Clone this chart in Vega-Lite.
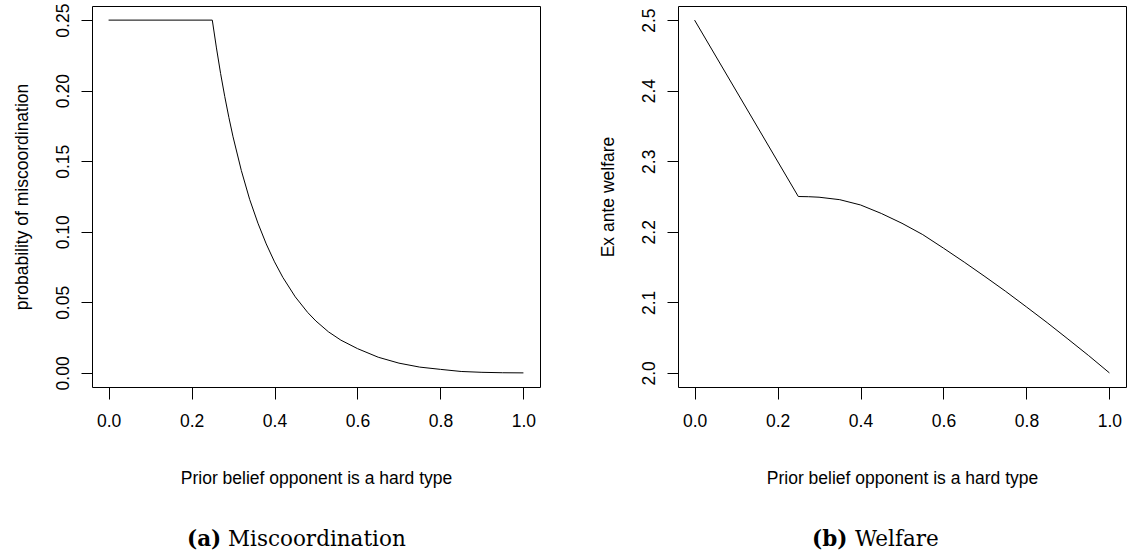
{
  "$schema": "https://vega.github.io/schema/vega-lite/v6.json",
  "background": "white",
  "padding": {"left": 12, "top": 2, "right": 0, "bottom": 0},
  "spacing": 57,
  "config": {
    "font": "Liberation Sans",
    "view": {"stroke": "#000", "strokeWidth": 1},
    "axis": {
      "labelFont": "Liberation Sans",
      "titleFont": "Liberation Sans",
      "labelFontSize": 17.5,
      "titleFontSize": 17.5,
      "titleFontWeight": "normal",
      "labelColor": "#000",
      "titleColor": "#000",
      "tickColor": "#000",
      "tickWidth": 1,
      "domain": false,
      "grid": false
    },
    "axisX": {"tickSize": 12, "labelPadding": 13, "titlePadding": 40, "labelFlush": false},
    "axisY": {"tickSize": 11, "labelPadding": 13, "labelAngle": 270, "labelAlign": "center", "labelBaseline": "alphabetic", "titlePadding": 23, "labelFlush": false},
    "title": {"font": "DejaVu Serif", "fontSize": 21.5, "color": "#000", "orient": "bottom", "anchor": "start", "align": "left", "frame": "group"}
  },
  "hconcat": [
    {
      "title": {"text": "(a)", "fontWeight": "bold", "dx": 95, "offset": -22},
      "hconcat": [
        {
          "title": {"text": "Miscoordination", "fontWeight": "normal", "dx": 136, "offset": 42},
          "width": 448,
          "height": 381,
          "data": {"values": [
            {"p": 0.0, "m": 0.25}, {"p": 0.25, "m": 0.25}, {"p": 0.26, "m": 0.2303}, {"p": 0.27, "m": 0.2122},
            {"p": 0.28, "m": 0.1959}, {"p": 0.29, "m": 0.181}, {"p": 0.30, "m": 0.1673}, {"p": 0.32, "m": 0.1434},
            {"p": 0.34, "m": 0.123}, {"p": 0.36, "m": 0.1061}, {"p": 0.38, "m": 0.0914}, {"p": 0.40, "m": 0.0787},
            {"p": 0.42, "m": 0.0677}, {"p": 0.45, "m": 0.0539}, {"p": 0.48, "m": 0.0428}, {"p": 0.50, "m": 0.0367},
            {"p": 0.53, "m": 0.0291}, {"p": 0.56, "m": 0.0232}, {"p": 0.60, "m": 0.0172}, {"p": 0.65, "m": 0.0111},
            {"p": 0.70, "m": 0.0069}, {"p": 0.75, "m": 0.0041}, {"p": 0.80, "m": 0.0025}, {"p": 0.85, "m": 0.001},
            {"p": 0.90, "m": 0.0004}, {"p": 0.95, "m": 0.0001}, {"p": 1.0, "m": 0.0}
          ]},
          "mark": {"type": "line", "color": "#000", "strokeWidth": 1},
          "encoding": {
            "x": {"field": "p", "type": "quantitative", "scale": {"domain": [-0.04, 1.04], "nice": false, "zero": false},
                  "axis": {"values": [0, 0.2, 0.4, 0.6, 0.8, 1.0], "format": ".1f", "title": "Prior belief opponent is a hard type"}},
            "y": {"field": "m", "type": "quantitative", "scale": {"domain": [-0.01, 0.26], "nice": false, "zero": false},
                  "axis": {"values": [0, 0.05, 0.1, 0.15, 0.2, 0.25], "format": ".2f", "title": "probability of miscoordination"}}
          }
        }
      ]
    },
    {
      "title": {"text": "(b)", "fontWeight": "bold", "dx": 134, "offset": -22},
      "hconcat": [
        {
          "title": {"text": "Welfare", "fontWeight": "normal", "dx": 177, "offset": 42},
          "width": 448,
          "height": 381,
          "data": {"values": [
            {"p": 0.0, "w": 2.5}, {"p": 0.25, "w": 2.25}, {"p": 0.275, "w": 2.2497}, {"p": 0.30, "w": 2.249},
            {"p": 0.35, "w": 2.2455}, {"p": 0.40, "w": 2.238}, {"p": 0.45, "w": 2.226}, {"p": 0.50, "w": 2.212},
            {"p": 0.55, "w": 2.196}, {"p": 0.60, "w": 2.1768}, {"p": 0.65, "w": 2.157}, {"p": 0.70, "w": 2.1365},
            {"p": 0.75, "w": 2.1155}, {"p": 0.80, "w": 2.0935}, {"p": 0.85, "w": 2.0712}, {"p": 0.90, "w": 2.048},
            {"p": 0.95, "w": 2.0245}, {"p": 1.0, "w": 2.0}
          ]},
          "mark": {"type": "line", "color": "#000", "strokeWidth": 1},
          "encoding": {
            "x": {"field": "p", "type": "quantitative", "scale": {"domain": [-0.04, 1.04], "nice": false, "zero": false},
                  "axis": {"values": [0, 0.2, 0.4, 0.6, 0.8, 1.0], "format": ".1f", "title": "Prior belief opponent is a hard type"}},
            "y": {"field": "w", "type": "quantitative", "scale": {"domain": [1.98, 2.52], "nice": false, "zero": false},
                  "axis": {"values": [2.0, 2.1, 2.2, 2.3, 2.4, 2.5], "format": ".1f", "title": "Ex ante welfare"}}
          }
        }
      ]
    }
  ]
}
